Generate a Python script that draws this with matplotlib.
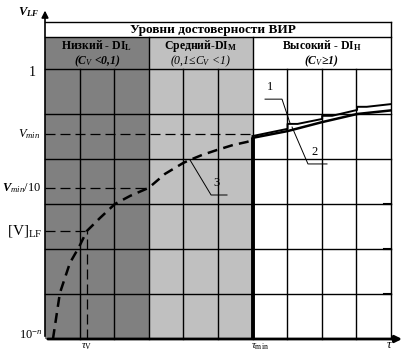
import numpy as np
import matplotlib
matplotlib.use('Agg')
import matplotlib.pyplot as plt
from matplotlib.patches import Rectangle

plt.rcParams['font.family'] = ['Liberation Serif', 'DejaVu Serif']
plt.rcParams['mathtext.fontset'] = 'custom'
plt.rcParams['mathtext.rm'] = 'Liberation Serif'
plt.rcParams['mathtext.it'] = 'Liberation Serif:italic'
plt.rcParams['mathtext.bf'] = 'Liberation Serif:bold'
plt.rcParams['mathtext.bfit'] = 'Liberation Serif:bold:italic'

# grid: 10 columns (tau), 6 rows (V_LF, log scale schematic)
n_cols = 10
n_rows = 6
title = 'Уровни достоверности ВИР'
zone_edges = [0, 3, 6, 10]
zone_colors = ['#808080', '#c0c0c0', '#ffffff']
zone_names = ['Низкий - DI$_\\mathbf{L}$', 'Средний-DI$_\\mathbf{M}$', 'Высокий - DI$_\\mathbf{H}$']
zone_conds = ['(C$_V$ <0,1)', '(0,1≤C$_V$ <1)', '(C$_V$≥1)']
zone_weights = ['bold', 'normal', 'bold']

tau_v = 1.21
tau_min = 6.0
v_one = 5.93
v_min = 4.56
v_min10 = 3.36
v_lf = 2.4

# curve 3 (dashed), low/medium zones
c3_x = [0.23, 0.43, 0.72, 0.98, 1.21, 1.59, 2.02, 2.46, 3.0, 3.47, 3.99, 4.19, 4.54, 4.97, 5.43, 5.84, 6.0]
c3_y = [0.0, 1.02, 1.69, 2.04, 2.4, 2.69, 3.0, 3.18, 3.36, 3.67, 3.91, 3.98, 4.09, 4.2, 4.31, 4.38, 4.42]
# curve 1 (stepped) and curve 2, high zone
c1_x = [6.0, 7.01, 7.01, 7.3, 8.01, 8.01, 8.3, 9.02, 9.02, 9.3, 10.0]
c1_y = [4.51, 4.67, 4.78, 4.78, 4.89, 4.96, 4.96, 5.09, 5.16, 5.16, 5.22]
c2_x = [6.0, 7.01, 8.01, 9.02, 10.0]
c2_y = [4.47, 4.62, 4.82, 5.0, 5.08]

fig = plt.figure(figsize=(4.09, 3.53), dpi=100)
ax = fig.add_axes([45/409, 14/353, 346/409, 270/353])
ax.set_xlim(0, n_cols)
ax.set_ylim(0, n_rows)
ax.axis('off')

h_cat = 6.71
h_top = 7.04

# zone backgrounds
for i in range(3):
    ax.add_patch(Rectangle((zone_edges[i], 0), zone_edges[i+1]-zone_edges[i], h_cat,
                           facecolor=zone_colors[i], edgecolor='none', clip_on=False, zorder=0))
    xc = (zone_edges[i] + zone_edges[i+1]) / 2
    ax.text(xc, 6.52, zone_names[i], ha='center', va='center', fontsize=8.5, fontweight='bold', clip_on=False)
    ax.text(xc, 6.17, zone_conds[i], ha='center', va='center', fontsize=8.5, style='italic',
            fontweight=zone_weights[i], clip_on=False)

# grid
for x in range(1, n_cols):
    top = h_cat if x in zone_edges else n_rows
    ax.plot([x, x], [0, top], color='black', lw=1.0, clip_on=False, zorder=1)
ax.plot([n_cols, n_cols], [0, h_top], color='black', lw=1.0, clip_on=False, zorder=1)
for y in range(1, n_rows + 1):
    ax.plot([0, n_cols], [y, y], color='black', lw=1.0, clip_on=False, zorder=1)
ax.plot([0, n_cols], [h_cat, h_cat], color='black', lw=1.0, clip_on=False, zorder=1)
ax.plot([0, n_cols], [h_top, h_top], color='black', lw=1.0, clip_on=False, zorder=1)
ax.text(4.85, (h_cat + h_top) / 2, title, ha='center', va='center', fontsize=9.5, fontweight='bold')

# small marks at right edge
for y in [1, 2, 3]:
    ax.plot([9.8, 10.0], [y, y], color='black', lw=1.5, clip_on=False, zorder=2)

# axes with arrows
ax.annotate('', xy=(0, 7.36), xytext=(0, 0), annotation_clip=False,
            arrowprops=dict(arrowstyle='-|>', color='black', lw=1.2, mutation_scale=10))
ax.annotate('', xy=(10.4, 0), xytext=(0, 0), annotation_clip=False,
            arrowprops=dict(arrowstyle='-|>', color='black', lw=2.0, mutation_scale=10))
ax.plot([tau_min, tau_min], [0, c2_y[0]], color='black', lw=2.8, zorder=3, solid_capstyle='butt')

# reference dashed lines
dash = dict(color='black', lw=0.9, dashes=(8, 4), zorder=3)
ax.plot([0, tau_min], [v_min, v_min], **dash)
ax.plot([0, 3.0], [v_min10, v_min10], **dash)
ax.plot([0, tau_v], [v_lf, v_lf], **dash)
ax.plot([tau_v, tau_v], [0, v_lf], **dash)

# curves
ax.plot(c3_x, c3_y, color='black', lw=1.8, dashes=(4, 2.5), zorder=4)
ax.plot(c2_x, c2_y, color='black', lw=1.8, zorder=4)
ax.plot(c1_x, c1_y, color='black', lw=1.4, zorder=4)

# leaders and labels
thin = dict(color='black', lw=0.7, zorder=5)
ax.plot([6.36, 6.85, 7.08], [5.33, 5.33, 4.8], **thin)
ax.text(6.5, 5.6, '1', ha='center', va='center', fontsize=9)
ax.plot([8.15, 7.6, 7.14], [3.89, 3.89, 4.71], **thin)
ax.text(7.8, 4.16, '2', ha='center', va='center', fontsize=9)
ax.plot([4.19, 4.8, 5.26], [3.98, 3.2, 3.2], **thin)
ax.text(4.97, 3.47, '3', ha='center', va='center', fontsize=9)

# y labels
ax.text(-0.48, 7.27, r'$\mathbfit{V}_{\mathbfit{LF}}$', ha='center', va='center', fontsize=9, clip_on=False)
ax.text(-0.26, v_one, '1', ha='right', va='center', fontsize=10, clip_on=False)
ax.text(-0.12, v_min, r'$V_{min}$', ha='right', va='center', fontsize=9, clip_on=False)
ax.text(-0.12, v_min10, r'$\mathbfit{V}_{min}$/10', ha='right', va='center', fontsize=9, clip_on=False)
ax.text(-0.08, v_lf, '[V]$_\\mathrm{LF}$', ha='right', va='center', fontsize=11, clip_on=False)
ax.text(-0.08, 0.07, '10$^{-n}$', ha='right', va='center', fontsize=9, clip_on=False)

# x labels
ax.text(tau_v, -0.17, r'$\tau_\mathrm{V}$', ha='center', va='center', fontsize=8, clip_on=False)
ax.text(tau_min - 0.05, -0.17, r'$\tau_\mathrm{min}$', ha='left', va='center', fontsize=8, clip_on=False)
ax.text(9.95, -0.14, r'$\tau$', ha='center', va='center', fontsize=9, clip_on=False)

fig.savefig('out.png', dpi=100)
